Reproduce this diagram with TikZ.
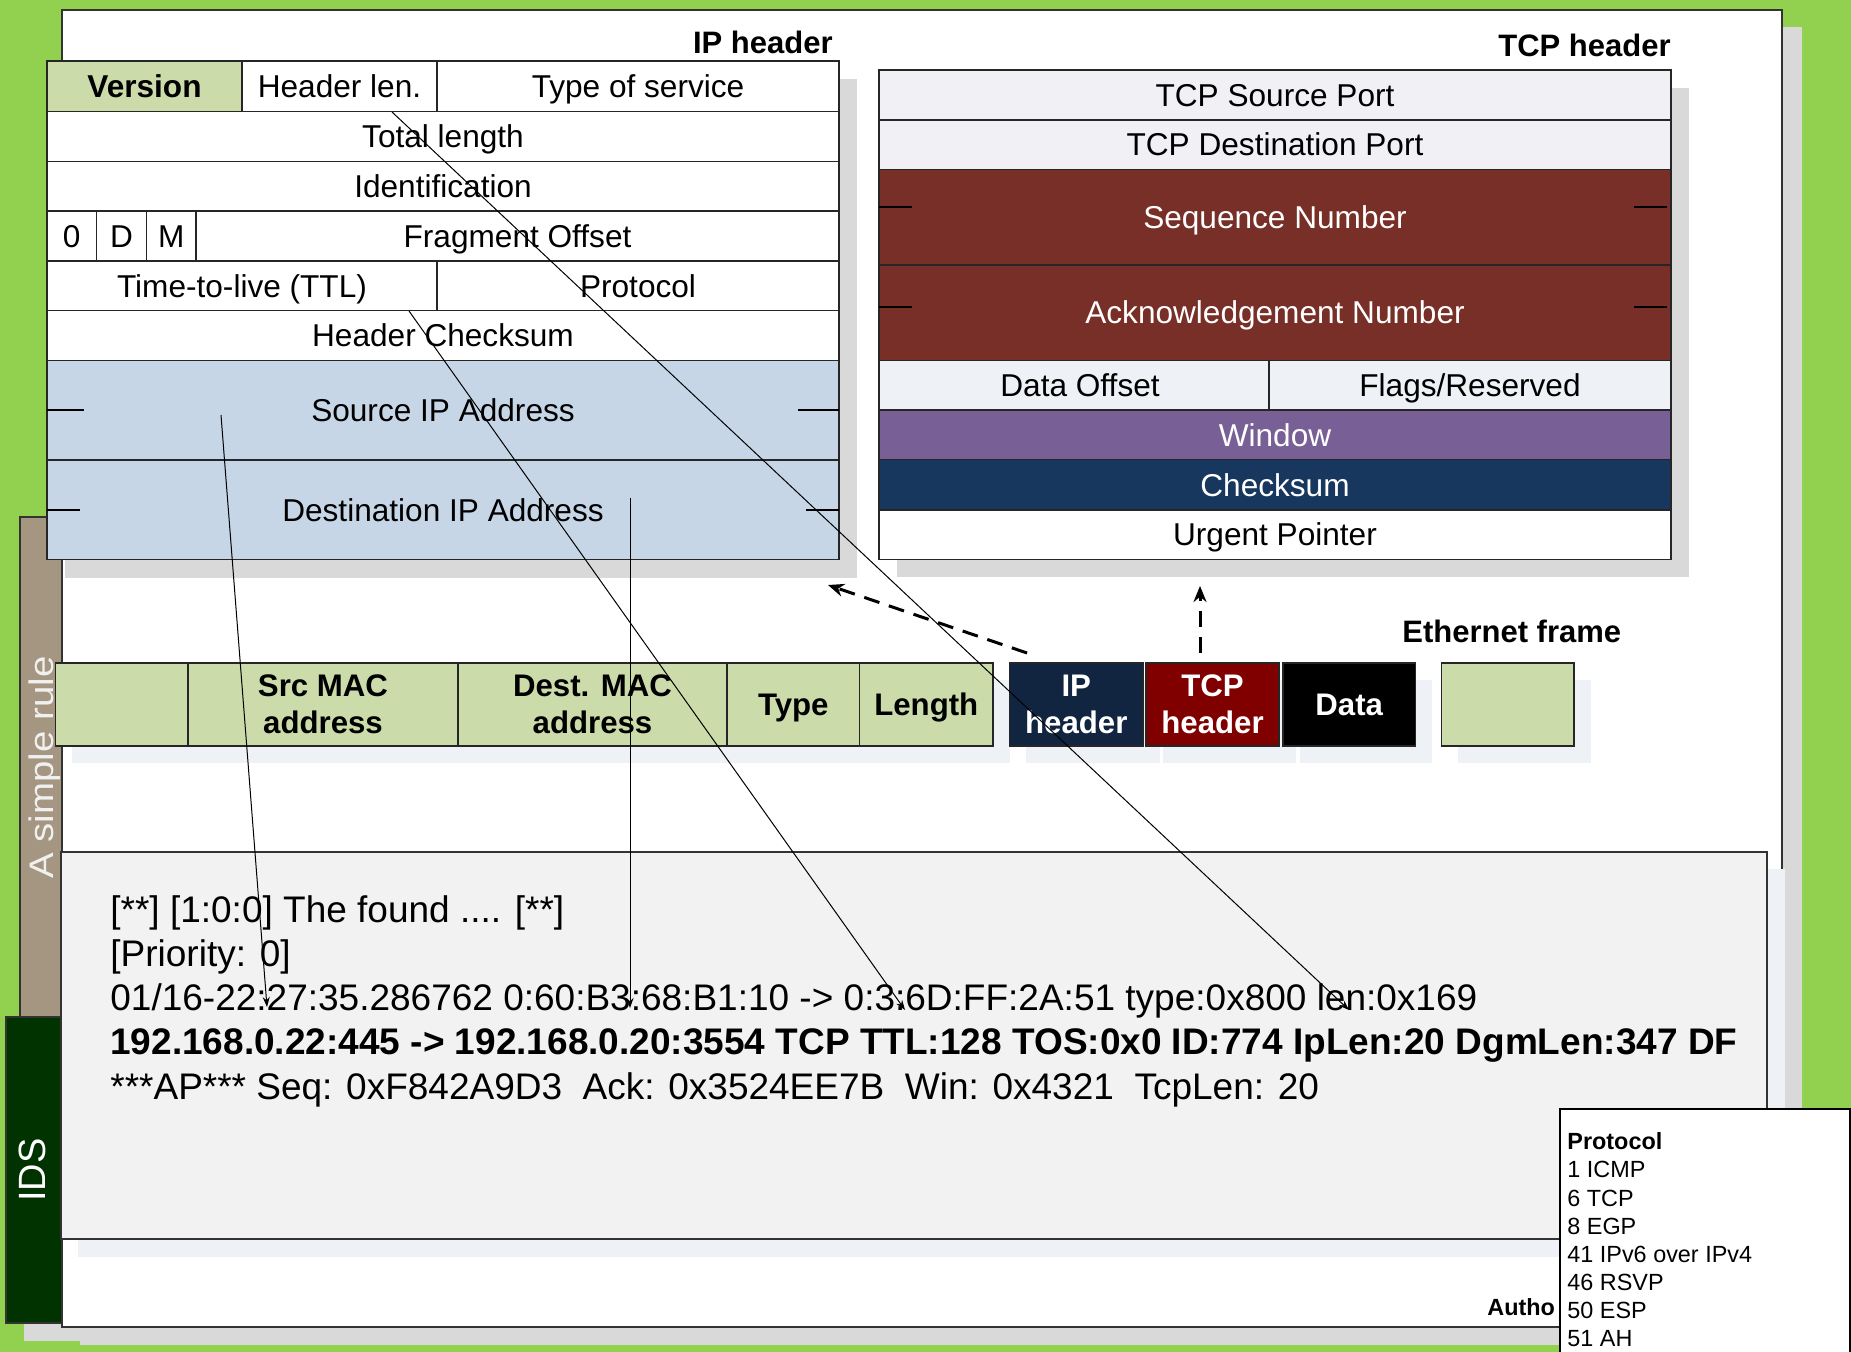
\documentclass[tikz,border=0pt]{standalone}
\usepackage{graphicx}
\usepackage{fontspec}
\setmainfont{Liberation Sans}
\usetikzlibrary{arrows.meta}

\definecolor{bggreen}{RGB}{146,208,80}
\definecolor{rulebrown}{RGB}{164,150,128}
\definecolor{idsgreen}{RGB}{0,51,0}
\definecolor{cellgreen}{RGB}{204,219,170}
\definecolor{addrblue}{RGB}{199,214,230}
\definecolor{portgray}{RGB}{240,240,245}
\definecolor{offsetgray}{RGB}{238,241,246}
\definecolor{seqred}{RGB}{120,47,40}
\definecolor{winpurple}{RGB}{120,96,150}
\definecolor{sumnavy}{RGB}{23,55,94}
\definecolor{ipnavy}{RGB}{17,37,64}
\definecolor{tcpmaroon}{RGB}{128,0,0}
\definecolor{logfill}{RGB}{242,242,242}
\definecolor{shadowgray}{RGB}{217,217,217}
\definecolor{shadowblue}{RGB}{238,241,245}

\newcommand\tabfnt{\fontsize{15.8pt}{19pt}\selectfont}
\newcommand\ethfnt{\fontsize{15.6pt}{18.75pt}\selectfont\bfseries}
\newcommand\headfnt{\fontsize{15.5pt}{18.6pt}\selectfont\bfseries}
\newcommand\logfnt{\fontsize{18.5pt}{22pt}\selectfont}
\newcommand\protofnt{\fontsize{11.7pt}{14pt}\selectfont}
\newcommand\rotfnt{\fontsize{17pt}{20pt}\selectfont}
\newcommand\idsfnt{\fontsize{19pt}{22pt}\selectfont}

% \field[style]{name}{x1}{y1}{x2}{y2}{text}: a header field spanning the given corners
\newcommand\field[7][]{%
  \node[field,#1,anchor=north west,
        minimum width={(#5-#3)*0.5pt},minimum height={(#6-#4)*0.5pt}]
        (#2) at (#3,#4) {#7};}

\begin{document}
\begin{tikzpicture}[x=0.5pt,y=-0.5pt,
  field/.style={draw=black!85,fill=white,line width=0.8pt,inner sep=0pt,outer sep=0pt,
                font=\tabfnt,text height=11.3pt,text depth=0pt},
  light/.style={text=white},
  ethbase/.style={draw=black!85,line width=0.8pt,inner sep=0pt,outer sep=0pt,font=\ethfnt},
  ethtwo/.style={ethbase,align=center,text height=,text depth=},
  ethone/.style={ethbase,text height=11.2pt,text depth=0pt},
  heading/.style={font=\headfnt,inner sep=0pt},
  logline/.style={font=\logfnt,inner sep=0pt,anchor=base west},
  protoline/.style={font=\protofnt,inner sep=0pt,anchor=base west},
  link/.style={line width=0.5pt,-{Stealth[length=5pt,width=3.5pt]}},
  framelink/.style={line width=1.5pt,dash pattern=on 8pt off 5pt,
                    -{Stealth[length=8pt,width=6.5pt]}},
  tick/.style={line width=0.7pt},
  panel/.style={draw=black!80,line width=0.6pt},
]
\useasboundingbox (0,0) rectangle (1851,1352);
\fill[bggreen] (0,0) rectangle (1851,1352);

% side tabs behind the main sheet
\draw[panel,fill=rulebrown] (20,517) rectangle (140,1100);
\node[rotate=90,anchor=base,inner sep=0pt,text=white!94!black,font=\rotfnt]
  (rulelabel) at (54,767.5) {\scalebox{1.13}[1]{A simple rule}};
\fill[shadowgray] (24,1035) rectangle (80,1341);
\draw[panel,fill=idsgreen] (6,1017) rectangle (140,1323);
\node[rotate=90,anchor=base,inner sep=0pt,text=white,font=\idsfnt]
  (idslabel) at (46,1170) {IDS};

% main sheet
\fill[shadowgray] (80,27) rectangle (1802,1345);
\draw[panel,fill=white] (62,10) rectangle (1782,1327);

% ---------- IP header ----------
\fill[shadowgray] (65,79) rectangle (857,578);
\node[heading,anchor=base east] (iptitle) at (833,54) {IP header};
\field[fill=cellgreen,font=\tabfnt\bfseries]{ipver}{47}{61}{242}{111.5}{Version}
\field{iphlen}{242}{61}{437}{111.5}{Header len.}
\field{iptos}{437}{61}{839}{111.5}{Type of service}
\field{iplen}{47}{111.5}{839}{161.5}{Total length}
\field{ipid}{47}{161.5}{839}{211}{Identification}
\field{ipzero}{47}{211}{96.5}{261}{0}
\field{ipdf}{96.5}{211}{146.5}{261}{D}
\field{ipmf}{146.5}{211}{196}{261}{M}
\field{ipfrag}{196}{211}{839}{261}{Fragment Offset}
\field{ipttl}{47}{261}{437}{310.5}{Time-to-live (TTL)}
\field{ipproto}{437}{261}{839}{310.5}{Protocol}
\field{ipsum}{47}{310.5}{839}{360.5}{Header Checksum}
\field[fill=addrblue]{ipsrc}{47}{360.5}{839}{460}{Source IP Address}
\field[fill=addrblue]{ipdst}{47}{460}{839}{559.5}{Destination IP Address}
\draw[tick] (47,410) -- (84,410) (798,410) -- (839,410);
\draw[tick] (47,510) -- (80,510) (806,510) -- (839,510);

% ---------- TCP header ----------
\fill[shadowgray] (897,88) rectangle (1689,577);
\node[heading,anchor=base east] (tcptitle) at (1671,57) {TCP header};
\field[fill=portgray]{tcpsport}{879}{70}{1671}{119.8}{TCP Source Port}
\field[fill=portgray]{tcpdport}{879}{119.8}{1671}{169.5}{TCP Destination Port}
\field[fill=seqred,light]{tcpseq}{879}{169.5}{1671}{264.8}{Sequence Number}
\field[fill=seqred,light]{tcpack}{879}{264.8}{1671}{360.5}{Acknowledgement Number}
\field[fill=offsetgray]{tcpoff}{879}{360.5}{1269}{410}{\hspace*{6pt}Data Offset}
\field[fill=offsetgray]{tcpflags}{1269}{360.5}{1671}{410}{Flags/Reserved}
\field[fill=winpurple,light]{tcpwin}{879}{410}{1671}{459.6}{Window}
\field[fill=sumnavy,light]{tcpsum}{879}{459.6}{1671}{509.8}{Checksum}
\field{tcpurg}{879}{509.8}{1671}{559.5}{Urgent Pointer}
\draw[tick] (879,207) -- (912,207) (1634,207) -- (1667,207);
\draw[tick] (879,307) -- (912,307) (1634,307) -- (1667,307);

% ---------- Ethernet frame ----------
\node[heading,anchor=base west] (ethtitle) at (1402,642) {Ethernet frame};
\fill[shadowblue] (72,680) rectangle (1010,763);
\fill[shadowblue] (1026,680) rectangle (1160,763);
\fill[shadowblue] (1163,680) rectangle (1296,763);
\fill[shadowblue] (1300,680) rectangle (1432,763);
\fill[shadowblue] (1458,680) rectangle (1591,763);
\field[ethone,fill=cellgreen]{ethpre}{55.5}{663}{188}{746}{}
\field[ethtwo,fill=cellgreen]{ethsrc}{188}{663}{458}{746}{Src MAC\\address}
\field[ethtwo,fill=cellgreen]{ethdst}{458}{663}{727}{746}{Dest. MAC\\address}
\field[ethone,fill=cellgreen]{ethtype}{727}{663}{859.5}{746}{Type}
\field[ethone,fill=cellgreen]{ethlen}{859.5}{663}{993}{746}{Length}
\field[ethtwo,fill=ipnavy,light]{ethip}{1009.5}{663}{1143}{746}{IP\\header}
\field[ethtwo,fill=tcpmaroon,light]{ethtcp}{1146}{663}{1279}{746}{TCP\\header}
\field[ethone,fill=black,light]{ethdata}{1283}{663}{1415.5}{746}{Data}
\field[ethone,fill=cellgreen]{ethfcs}{1441.5}{663}{1574}{746}{}

% ---------- IDS alert ----------
\fill[shadowblue] (78,869) rectangle (1785,1257);
\draw[panel,fill=logfill] (61,852) rectangle (1767,1239);
\node[logline] (log1) at (110,922) {[**] [1:0:0] The found .... [**]};
\node[logline] (log2) at (110,966.3) {[Priority: 0]};
\node[logline] (log3) at (110,1010.6) {01/16-22:27:35.286762 0:60:B3:68:B1:10 -> 0:3:6D:FF:2A:51 type:0x800 len:0x169};
\node[logline,font=\logfnt\bfseries] (log4) at (110,1054.9) {192.168.0.22:445 -> 192.168.0.20:3554 TCP TTL:128 TOS:0x0 ID:774 IpLen:20 DgmLen:347 DF};
\node[logline] (log5) at (110,1099.2) {***AP*** Seq: 0xF842A9D3\ \ Ack: 0x3524EE7B\ \ Win: 0x4321\ \ TcpLen: 20};

% ---------- protocol numbers ----------
\node[protoline,font=\protofnt\bfseries] (author) at (1487,1315) {Autho};
\draw[line width=0.6pt,fill=white] (1560,1109) rectangle (1850,1380);
\node[protoline,font=\protofnt\bfseries] (proto0) at (1567,1149.3) {Protocol};
\foreach \txt/\yb [count=\k] in {1 ICMP/1177.7,6 TCP/1206,8 EGP/1234.2,
    41 IPv6 over IPv4/1262.6,46 RSVP/1290.8,50 ESP/1318.8,51 AH/1346.8}
  \node[protoline] (proto\k) at (1567,\yb) {\txt};

% ---------- connectors ----------
\coordinate (srcfrom) at (221,415);
\coordinate (srcto)   at (267,1007);
\coordinate (dstfrom) at (630,498);
\coordinate (dstto)   at (630,1008);
\coordinate (ttlfrom) at (409,311);
\coordinate (ttlto)   at (905,1010);
\coordinate (lenfrom) at (392,112);
\coordinate (lento)   at (1349,1010);
\draw[link] (srcfrom) -- (srcto);
\draw[link] (dstfrom) -- (dstto);
\draw[link] (ttlfrom) -- (ttlto);
\draw[link] (lenfrom) -- (lento);

\coordinate (ipup)   at (1027,653);
\coordinate (iptip)  at (828,585);
\coordinate (tcpup)  at (1200,653);
\coordinate (tcptip) at (1200,586);
\draw[framelink] (ipup) -- (iptip);
\draw[framelink] (tcpup) -- (tcptip);
\end{tikzpicture}
\end{document}
